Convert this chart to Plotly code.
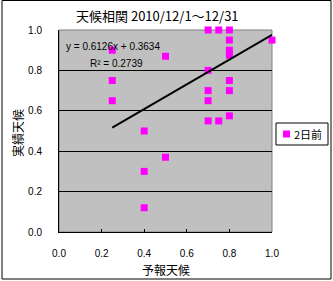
import plotly.graph_objects as go

# Data
forecast = [0.25, 0.25, 0.25, 0.4, 0.4, 0.4, 0.5, 0.5, 0.7, 0.7, 0.7, 0.7, 0.7,
            0.75, 0.75, 0.8, 0.8, 0.8, 0.8, 0.8, 0.8, 0.8, 1.0]
actual = [0.9, 0.75, 0.65, 0.5, 0.3, 0.12, 0.87, 0.37, 1.0, 0.8, 0.7, 0.65, 0.55,
          1.0, 0.55, 1.0, 0.95, 0.9, 0.875, 0.75, 0.7, 0.575, 0.95]
slope = 0.6126
intercept = 0.3634
r2 = 0.2739
tick_vals = [0.0, 0.2, 0.4, 0.6, 0.8, 1.0]
tick_text = ["0.0", "0.2", "0.4", "0.6", "0.8", "1.0"]
series_name = "2日前"
title_text = "天候相関 2010/12/1～12/31"
x_title = "予報天候"
y_title = "実績天候"

W, H = 333, 281
L, R, T, B = 59, 61, 30, 49
pw, ph = W - L - R, H - T - B

def px_x(p):
    return (p - L) / pw

def px_y(p):
    return (H - B - p) / ph

jp = "Noto Sans CJK JP"
num = "Liberation Sans"

fig = go.Figure()
fig.add_trace(go.Scatter(
    x=forecast, y=actual, mode="markers", name=series_name,
    marker=dict(symbol="square", size=7, color="#FF00FF", line=dict(width=0)),
    cliponaxis=False, showlegend=False))

tx = [min(forecast), max(forecast)]
fig.add_trace(go.Scatter(
    x=tx, y=[slope * v + intercept for v in tx], mode="lines",
    line=dict(color="black", width=2), showlegend=False, hoverinfo="skip"))

axis_common = dict(range=[0, 1], tickvals=tick_vals, ticktext=tick_text,
                   tickfont=dict(family=num, size=10, color="black"),
                   showline=True, linecolor="black", linewidth=1,
                   zeroline=False, fixedrange=True)
fig.update_xaxes(**axis_common, showgrid=False, ticks="inside", ticklen=3,
                 tickcolor="black", ticklabelstandoff=12)
fig.update_yaxes(**axis_common, showgrid=True, gridcolor="black", gridwidth=1,
                 ticks="", ticklabelstandoff=14)

shapes = [
    # plot area border
    dict(type="rect", xref="paper", yref="paper", x0=0, x1=1, y0=0, y1=1,
         line=dict(color="#808080", width=1), layer="below"),
    # outer chart border
    dict(type="rect", xref="paper", yref="paper",
         x0=px_x(2), x1=px_x(331), y0=px_y(279), y1=px_y(0.5),
         line=dict(color="black", width=1)),
    # legend box
    dict(type="rect", xref="paper", yref="paper",
         x0=px_x(276), x1=px_x(328), y0=px_y(145), y1=px_y(123),
         line=dict(color="black", width=1), fillcolor="white"),
    # legend marker
    dict(type="rect", xref="paper", yref="paper",
         x0=px_x(283), x1=px_x(290), y0=px_y(137.5), y1=px_y(130.5),
         line=dict(width=0), fillcolor="#FF00FF"),
]

annotations = [
    dict(text=title_text, xref="paper", yref="paper", x=px_x(157), y=px_y(16),
         showarrow=False, xanchor="center", yanchor="middle",
         font=dict(family=jp, size=13, color="black")),
    dict(text=x_title, xref="paper", yref="paper", x=px_x(166), y=px_y(269),
         showarrow=False, xanchor="center", yanchor="middle",
         font=dict(family=jp, size=12, color="black")),
    dict(text=y_title, xref="paper", yref="paper", x=px_x(17), y=px_y(133),
         showarrow=False, xanchor="center", yanchor="middle", textangle=-90,
         font=dict(family=jp, size=12, color="black")),
    dict(text=f"y = {slope:.4f}x + {intercept:.4f}", xref="paper", yref="paper",
         x=px_x(64), y=px_y(47), showarrow=False, xanchor="left", yanchor="middle",
         font=dict(family=num, size=10, color="black")),
    dict(text=f"R² = {r2:.4f}", xref="paper", yref="paper",
         x=px_x(88), y=px_y(63), showarrow=False, xanchor="left", yanchor="middle",
         font=dict(family=num, size=10, color="black")),
    dict(text=series_name, xref="paper", yref="paper", x=px_x(292), y=px_y(134),
         showarrow=False, xanchor="left", yanchor="middle",
         font=dict(family=jp, size=11, color="black")),
]

fig.update_layout(
    width=W, height=H, margin=dict(l=L, r=R, t=T, b=B),
    paper_bgcolor="white", plot_bgcolor="#C0C0C0",
    shapes=shapes, annotations=annotations, showlegend=False,
)

fig.write_html("out.html", config={"displayModeBar": False})
